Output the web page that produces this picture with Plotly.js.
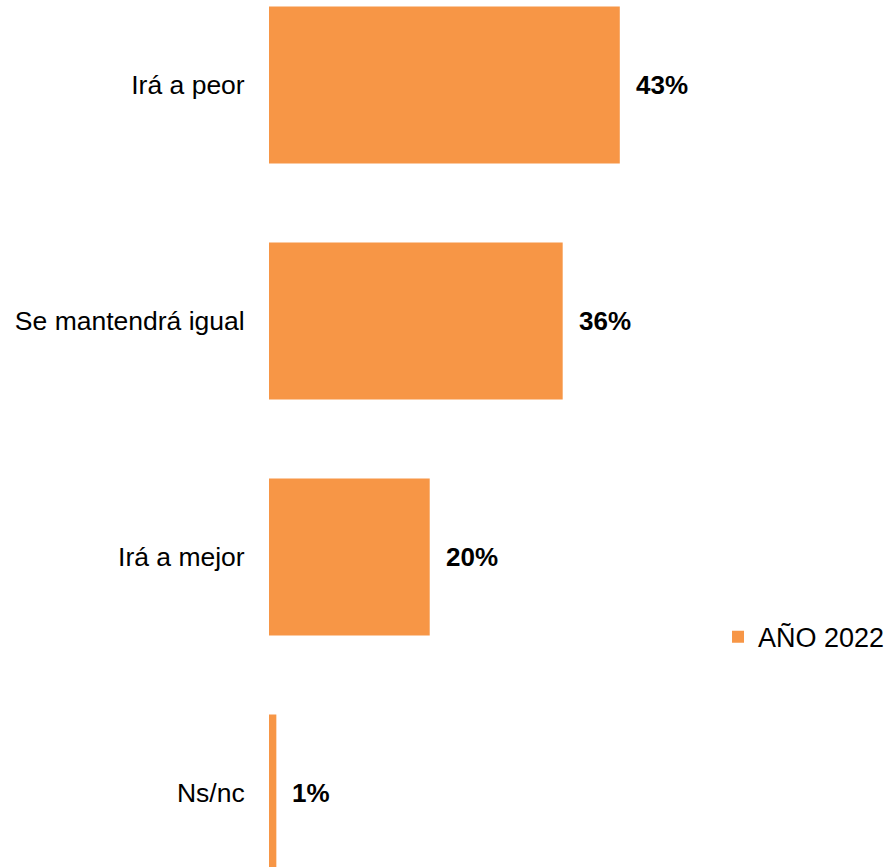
<!DOCTYPE html>
<html>
<head>
<meta charset="utf-8">
<script src="https://cdn.plot.ly/plotly-3.0.1.min.js"></script>
<style>html,body{margin:0;padding:0;background:#fff;}#chart{width:886px;height:867px;}</style>
</head>
<body>
<div id="chart"></div>
<script>
const categories = ["Irá a peor", "Se mantendrá igual", "Irá a mejor", "Ns/nc"];
const values = [43, 36, 19.7, 0.9];
const valueLabels = ["43%", "36%", "20%", "1%"];
const seriesName = "AÑO 2022";

const font = "Arial, 'Liberation Sans', sans-serif";

const trace = {
  type: "bar",
  orientation: "h",
  x: values,
  y: categories,
  name: seriesName,
  marker: {color: "#F79646"},
  showlegend: true,
  hoverinfo: "none"
};

const annotations = categories.map((c, i) => ({
  x: values[i], y: c, xref: "x", yref: "y",
  text: "<b>" + valueLabels[i] + "</b>",
  showarrow: false, xanchor: "left", yanchor: "middle", xshift: 14,
  font: {family: font, size: 26, color: "#000"}
}));

const layout = {
  width: 886, height: 867,
  margin: {l: 269, r: 0, t: 0, b: 0},
  paper_bgcolor: "#fff", plot_bgcolor: "#fff",
  bargap: 0.335,
  xaxis: {range: [0, 55.04], showgrid: false, zeroline: false, showticklabels: false, showline: false, ticks: ""},
  yaxis: {type: "category", range: [3.3136, -0.36], showgrid: false, zeroline: false, showline: false,
          ticks: "outside", ticklen: 18, tickcolor: "rgba(0,0,0,0)",
          tickfont: {family: font, size: 26.5, color: "#000"}},
  legend: {xref: "container", x: 0.8104, xanchor: "left", y: 0.265, yanchor: "middle", bgcolor: "rgba(0,0,0,0)",
           font: {family: font, size: 27, color: "#000"}},
  annotations: annotations,
  showlegend: true
};

Plotly.newPlot("chart", [trace], layout, {displayModeBar: false, staticPlot: true});
</script>
</body>
</html>
